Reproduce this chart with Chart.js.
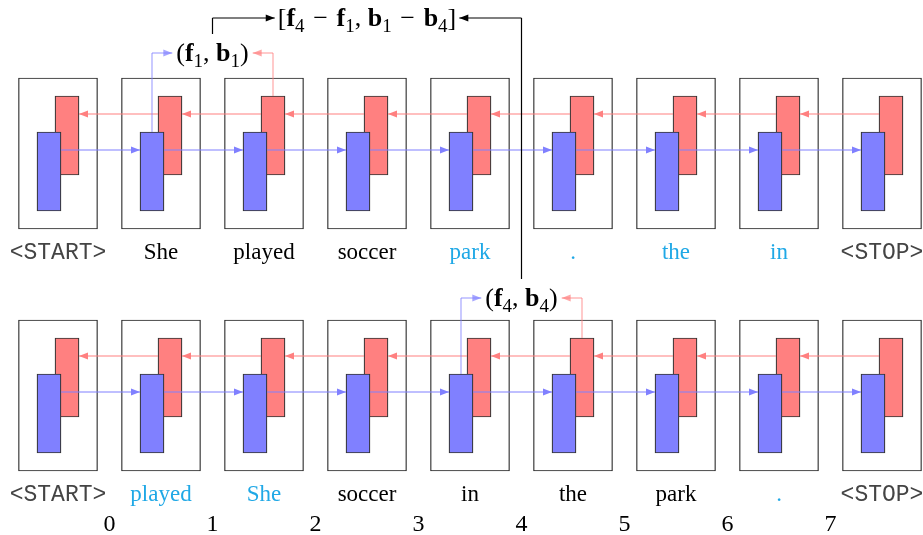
<!DOCTYPE html>
<html>
<head>
<meta charset="utf-8">
<script src="https://cdn.jsdelivr.net/npm/chart.js@4.4.1/dist/chart.umd.min.js"></script>
<style>
  html, body { margin: 0; padding: 0; background: #ffffff; }
  #wrap { width: 923px; height: 535px; position: relative; }
</style>
</head>
<body>
<div id="wrap"><canvas id="diagrama"></canvas></div>
<script>
// tokens of the original (top) and shuffled (bottom) sentence
const topTokens    = ['<START>', 'She', 'played', 'soccer', 'park', '.', 'the', 'in', '<STOP>'];
const topMoved     = [false, false, false, false, true, true, true, true, false];
const bottomTokens = ['<START>', 'played', 'She', 'soccer', 'in', 'the', 'park', '.', '<STOP>'];
const bottomMoved  = [false, true, true, false, false, false, false, true, false];
// split positions between tokens
const gapLabels = ['0', '1', '2', '3', '4', '5', '6', '7'];
// (f_i, b_i) taken between box i and i+1 of a row
const pairRows    = [0, 1];
const pairIndexes = [1, 4];

// layout (y in pixels from top, x in token units)
const L = {
    rowShift: 242,
    boxTop: 78, boxBottom: 229,
    redTop: 96, redBottom: 175,
    blueTop: 132, blueBottom: 211,
    redLine: 114, blueLine: 150,
    wordY: 253, gapY: 525,
    pairY: [53, 298], diffY: 18,
    rectOff: 0.0874, rectHalf: 0.1165
};
const AZUL = '#8080ff', VERMELHO = '#ff8080', CIANO = '#1fa8e6';

const n = topTokens.length;
const boxes = [], reds = [], blues = [];
[0, 1].forEach(row => {
    const dy = row * L.rowShift;
    for (let i = 0; i < n; i++) {
        boxes.push({ x: i, y: [L.boxTop + dy, L.boxBottom + dy] });
        reds.push({ x: i + L.rectOff, y: [L.redTop + dy, L.redBottom + dy] });
        blues.push({ x: i - L.rectOff, y: [L.blueTop + dy, L.blueBottom + dy] });
    }
});

function seta(ctx, x1, y1, x2, y2, cor, alpha) {
    ctx.save();
    ctx.globalAlpha = alpha || 1;
    ctx.strokeStyle = cor;
    ctx.fillStyle = cor;
    ctx.lineWidth = 1.2;
    ctx.beginPath();
    ctx.moveTo(x1, y1);
    ctx.lineTo(x2, y2);
    ctx.stroke();
    const ang = Math.atan2(y2 - y1, x2 - x1);
    ctx.beginPath();
    ctx.moveTo(x2, y2);
    ctx.lineTo(x2 - 9 * Math.cos(ang) + 3.5 * Math.sin(ang), y2 - 9 * Math.sin(ang) - 3.5 * Math.cos(ang));
    ctx.lineTo(x2 - 9 * Math.cos(ang) - 3.5 * Math.sin(ang), y2 - 9 * Math.sin(ang) + 3.5 * Math.cos(ang));
    ctx.closePath();
    ctx.fill();
    ctx.restore();
}

function linha(ctx, pts, cor, alpha) {
    ctx.save();
    ctx.globalAlpha = alpha || 1;
    ctx.strokeStyle = cor;
    ctx.lineWidth = 1.2;
    ctx.beginPath();
    pts.forEach((p, k) => k ? ctx.lineTo(p[0], p[1]) : ctx.moveTo(p[0], p[1]));
    ctx.stroke();
    ctx.restore();
}

// draws a math label made of [text, kind] pieces; returns its left/right edges
function textoMat(ctx, partes, cx, cy, size) {
    const fonte = k => k === 'b' ? `bold ${size}px "Liberation Serif"`
                    : k === 's' ? `${Math.round(size * 0.72)}px "Liberation Serif"`
                    : `${size}px "Liberation Serif"`;
    let total = 0;
    const larg = partes.map(p => { ctx.font = fonte(p[1]); const w = ctx.measureText(p[0]).width; total += w; return w; });
    let x = cx - total / 2;
    ctx.save();
    ctx.fillStyle = '#000';
    ctx.textBaseline = 'alphabetic';
    partes.forEach((p, k) => {
        ctx.font = fonte(p[1]);
        ctx.fillText(p[0], x, cy + size * 0.3 + (p[1] === 's' ? size * 0.22 : 0));
        x += larg[k];
    });
    ctx.restore();
    return { left: cx - total / 2, right: cx + total / 2 };
}

const desenho = {
    id: 'desenho',
    afterDatasetsDraw(chart) {
        const { ctx, scales: { x, y } } = chart;
        const px = v => x.getPixelForValue(v);
        const py = v => y.getPixelForValue(v);

        // recurrent arrows
        [0, 1].forEach(row => {
            const dy = row * L.rowShift;
            for (let i = 0; i < n - 1; i++) {
                seta(ctx, px(i - L.rectOff + L.rectHalf), py(L.blueLine + dy),
                          px(i + 1 - L.rectOff - L.rectHalf), py(L.blueLine + dy), AZUL);
                seta(ctx, px(i + 1 + L.rectOff - L.rectHalf), py(L.redLine + dy),
                          px(i + L.rectOff + L.rectHalf), py(L.redLine + dy), VERMELHO);
            }
        });

        // words
        ctx.save();
        ctx.textAlign = 'center';
        ctx.textBaseline = 'middle';
        [[topTokens, topMoved, 0], [bottomTokens, bottomMoved, 1]].forEach(([toks, moved, row]) => {
            toks.forEach((t, i) => {
                const mono = t.startsWith('<');
                ctx.font = mono ? '23px "Liberation Mono"' : '23px "Liberation Serif"';
                ctx.fillStyle = mono ? '#444' : (moved[i] ? CIANO : '#000');
                ctx.fillText(t, px(i), py(L.wordY + row * L.rowShift));
            });
        });
        ctx.font = '24px "Liberation Serif"';
        ctx.fillStyle = '#000';
        gapLabels.forEach((g, i) => ctx.fillText(g, px(i + 0.5), py(L.gapY)));
        ctx.restore();

        // (f_i, b_i) labels with their connectors
        const centros = [];
        pairRows.forEach((row, k) => {
            const i = pairIndexes[k];
            const dy = row * L.rowShift;
            const cy = py(L.pairY[row]);
            const cx = px(i + 0.5);
            const s = String(i);
            const ed = textoMat(ctx, [['(', 'r'], ['f', 'b'], [s, 's'], [', ', 'r'], ['b', 'b'], [s, 's'], [')', 'r']], cx, cy, 26);
            const bx = px(i - L.rectOff), rx = px(i + 1 + L.rectOff);
            linha(ctx, [[bx, py(L.blueTop + dy)], [bx, cy]], AZUL, 0.7);
            seta(ctx, bx, cy, ed.left - 4, cy, AZUL, 0.7);
            linha(ctx, [[rx, py(L.redTop + dy)], [rx, cy]], VERMELHO, 0.7);
            seta(ctx, rx, cy, ed.right + 4, cy, VERMELHO, 0.7);
            centros.push({ cx, top: cy - 19 });
        });

        // difference label
        const a = pairIndexes[0], b = pairIndexes[1];
        const dyTop = py(L.diffY);
        const menos = ' \u200a\u2212\u200a ';
        const ed = textoMat(ctx, [['[', 'r'], ['f', 'b'], [String(b), 's'], [menos, 'r'], ['f', 'b'], [String(a), 's'], [', ', 'r'],
                                  ['b', 'b'], [String(a), 's'], [menos, 'r'], ['b', 'b'], [String(b), 's'], [']', 'r']],
                                  px((a + b + 1) / 2), dyTop, 26);
        linha(ctx, [[centros[0].cx, centros[0].top], [centros[0].cx, dyTop]], '#000');
        seta(ctx, centros[0].cx, dyTop, ed.left - 3, dyTop, '#000');
        linha(ctx, [[centros[1].cx, centros[1].top], [centros[1].cx, dyTop]], '#000');
        seta(ctx, centros[1].cx, dyTop, ed.right + 3, dyTop, '#000');
    }
};

new Chart(document.getElementById('diagrama'), {
    type: 'bar',
    data: {
        datasets: [
            { data: boxes, backgroundColor: '#ffffff', borderColor: '#222', borderWidth: 1.2, borderSkipped: false, barThickness: 79, grouped: false, order: 3 },
            { data: reds, backgroundColor: VERMELHO, borderColor: '#333', borderWidth: 1.2, borderSkipped: false, barThickness: 24, grouped: false, order: 2 },
            { data: blues, backgroundColor: AZUL, borderColor: '#333', borderWidth: 1.2, borderSkipped: false, barThickness: 24, grouped: false, order: 1 }
        ]
    },
    options: {
        responsive: true,
        maintainAspectRatio: false,
        animation: false,
        layout: { padding: 0 },
        scales: {
            x: { type: 'linear', min: -58 / 103, max: (923 - 58) / 103, display: false, offset: false },
            y: { type: 'linear', min: 0, max: 535, reverse: true, display: false }
        },
        plugins: { legend: { display: false }, tooltip: { enabled: false } }
    },
    plugins: [desenho]
});
</script>
</body>
</html>
